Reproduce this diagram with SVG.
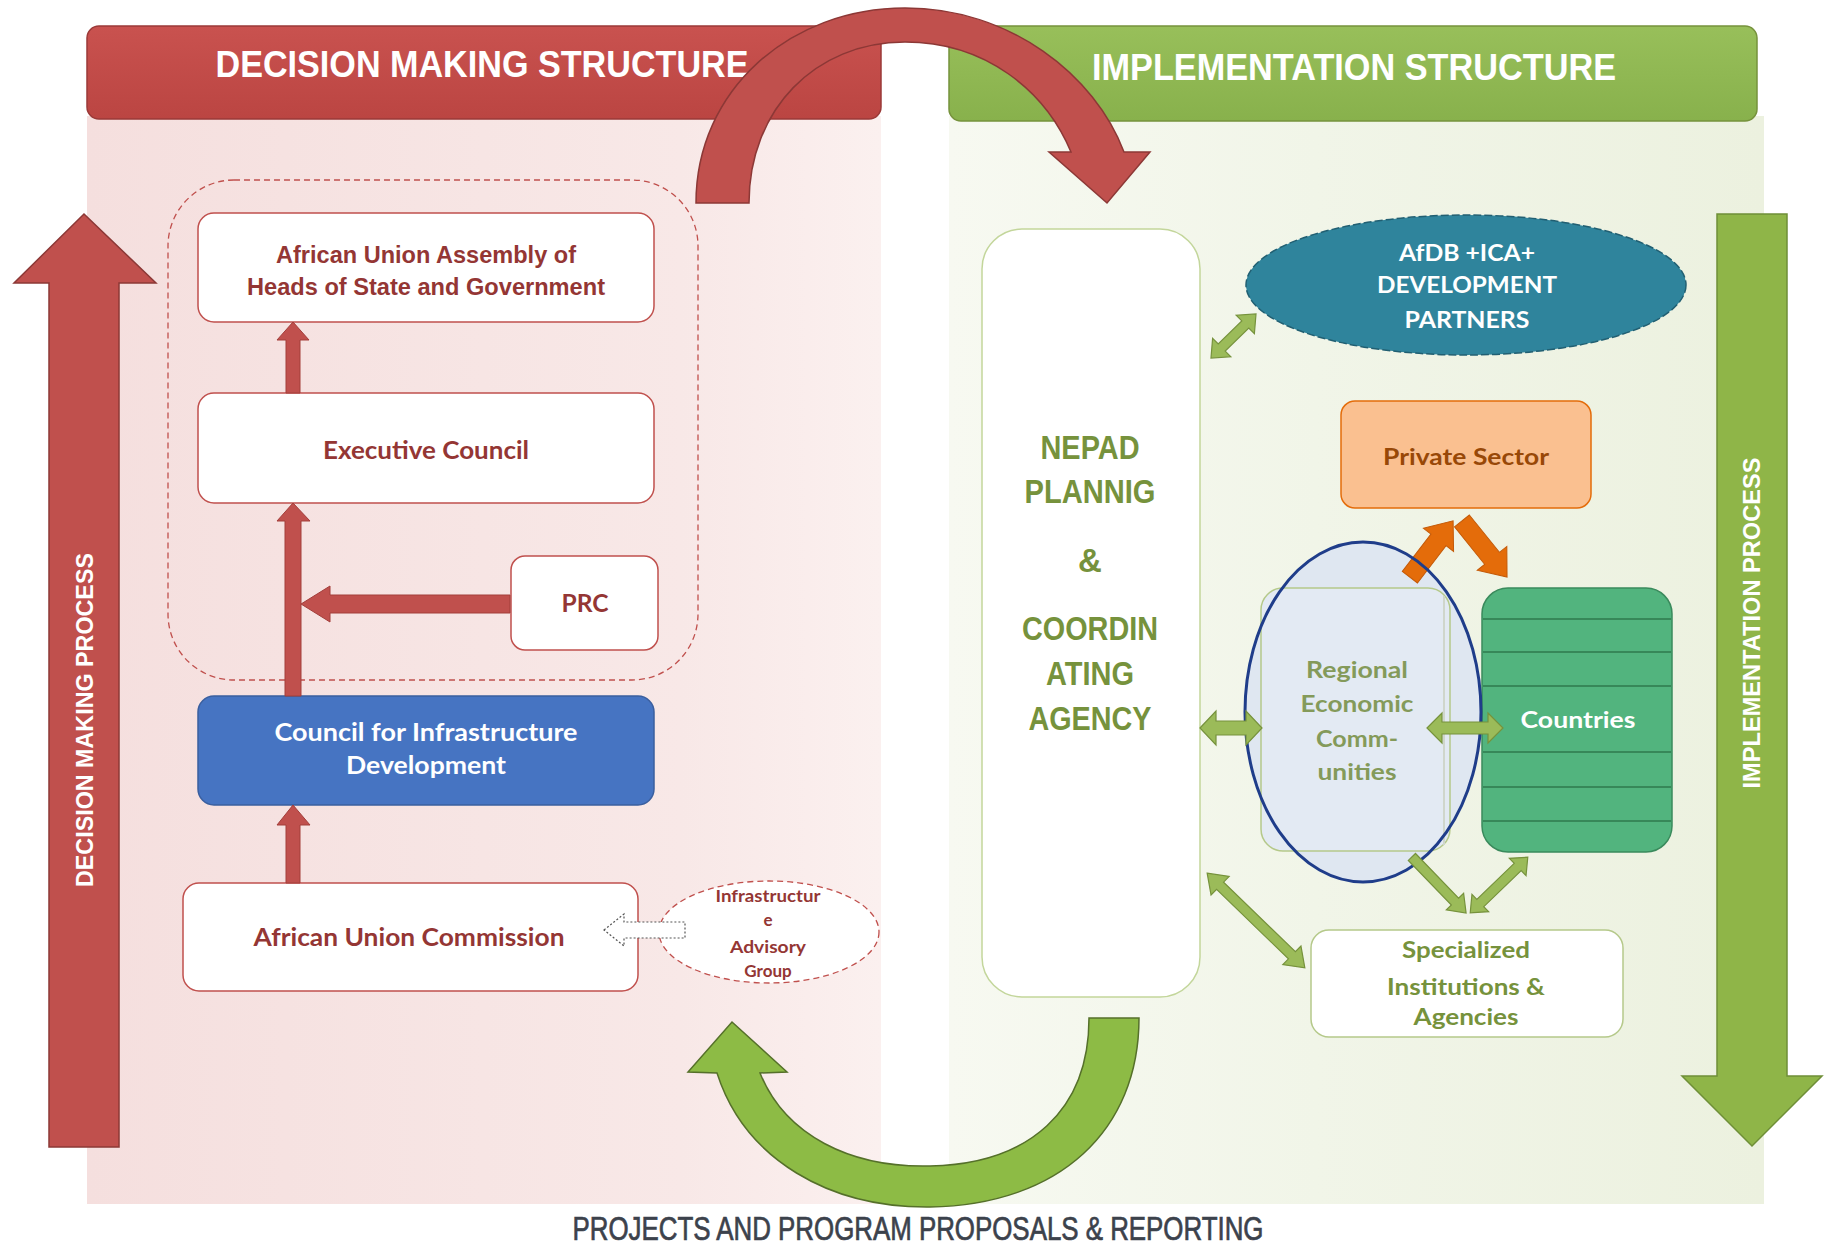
<svg xmlns="http://www.w3.org/2000/svg" width="1825" height="1247" viewBox="0 0 1825 1247">
<defs>
<linearGradient id="gPink" x1="0" y1="0" x2="1" y2="0">
<stop offset="0" stop-color="#f5dfde"/><stop offset="0.75" stop-color="#f8e8e7"/><stop offset="1" stop-color="#fbf0ef"/>
</linearGradient>
<linearGradient id="gGreen" x1="0" y1="0" x2="1" y2="0">
<stop offset="0" stop-color="#f7f9f1"/><stop offset="0.45" stop-color="#f1f5e8"/><stop offset="1" stop-color="#ecf1df"/>
</linearGradient>
<linearGradient id="gRedHead" x1="0" y1="0" x2="0" y2="1">
<stop offset="0" stop-color="#c9524f"/><stop offset="1" stop-color="#bb4542"/>
</linearGradient>
<linearGradient id="gGreenHead" x1="0" y1="0" x2="0" y2="1">
<stop offset="0" stop-color="#98bf5a"/><stop offset="1" stop-color="#88b14c"/>
</linearGradient>
<style>
.hdr{font-family:"Liberation Sans",Arial,sans-serif;font-weight:bold;font-size:37px;fill:#ffffff;text-anchor:middle}
.proc{font-family:"Liberation Sans",Arial,sans-serif;font-weight:bold;font-size:23px;fill:#ffffff;text-anchor:middle}
.box{fill:#ffffff;stroke:#c0504d;stroke-width:1.5}
.lbl{font-family:Lato,"Open Sans",sans-serif;font-weight:bold;text-anchor:middle}
.narrow{font-family:"Liberation Sans",Arial,sans-serif;font-weight:bold;text-anchor:middle}
.red{fill:#943634}
.redarrow{fill:#c0504d;stroke:#a33e3b;stroke-width:1}
.garrow{fill:#9bbb59;stroke:#76923c;stroke-width:1.2}
.oarrow{fill:#e46c0a;stroke:#c45a08;stroke-width:1}
.olive{fill:#76923c}
</style>
</defs>
<rect width="1825" height="1247" fill="#ffffff"/>
<g id="panels">
<rect x="87" y="116" width="794" height="1088" fill="url(#gPink)"/>
<rect x="949" y="116" width="815" height="1088" fill="url(#gGreen)"/>
</g>
<g id="decision-header">
<rect x="87" y="26" width="794" height="93" rx="12" fill="url(#gRedHead)" stroke="#9b3a38" stroke-width="1.5"/>
<text class="hdr" x="482" y="77" textLength="533" lengthAdjust="spacingAndGlyphs">DECISION MAKING STRUCTURE</text>
</g>
<g id="implementation-header">
<rect x="949" y="26" width="808" height="95" rx="12" fill="url(#gGreenHead)" stroke="#76923c" stroke-width="1.5"/>
<text class="hdr" x="1354" y="80" textLength="524" lengthAdjust="spacingAndGlyphs">IMPLEMENTATION STRUCTURE</text>
</g>
<g id="decision-process">
<polygon points="49,1147 49,283 14,283 84,214 156,283 119,283 119,1147" fill="#c0504d" stroke="#8c3836" stroke-width="1.5"/>
<text class="proc" transform="translate(92.5,720) rotate(-90)" x="0" y="0" textLength="334" lengthAdjust="spacingAndGlyphs">DECISION MAKING PROCESS</text>
</g>
<g id="implementation-process">
<polygon points="1717,214 1787,214 1787,1076 1822,1076 1752,1146 1682,1076 1717,1076" fill="#8fb548" stroke="#6f8f37" stroke-width="1.5"/>
<text class="proc" transform="translate(1760,623) rotate(-90)" x="0" y="0" textLength="331" lengthAdjust="spacingAndGlyphs">IMPLEMENTATION PROCESS</text>
</g>
<g id="au-organs-group">
<rect x="168" y="180" width="530" height="500" rx="66" fill="none" stroke="#c0504d" stroke-width="1.3" stroke-dasharray="6 4"/>
</g>
<g id="assembly">
<rect class="box" x="198" y="213" width="456" height="109" rx="16"/>
<text class="narrow red" x="426" y="263" font-size="24" textLength="300" lengthAdjust="spacingAndGlyphs">African Union Assembly of</text>
<text class="narrow red" x="426" y="295" font-size="24" textLength="358" lengthAdjust="spacingAndGlyphs">Heads of State and Government</text>
</g>
<g id="executive-council">
<rect class="box" x="198" y="393" width="456" height="110" rx="16"/>
<text class="lbl red" x="426" y="459" font-size="24" textLength="206" lengthAdjust="spacingAndGlyphs">Executive Council</text>
</g>
<g id="prc">
<rect class="box" x="511" y="556" width="147" height="94" rx="14"/>
<text class="lbl red" x="585" y="612" font-size="24" textLength="47" lengthAdjust="spacingAndGlyphs">PRC</text>
</g>
<g id="cid">
<rect x="198" y="696" width="456" height="109" rx="16" fill="#4674c2" stroke="#3a5f9f" stroke-width="1.5"/>
<text class="lbl" fill="#ffffff" x="426" y="741" font-size="24" textLength="303" lengthAdjust="spacingAndGlyphs">Council for Infrastructure</text>
<text class="lbl" fill="#ffffff" x="426" y="774" font-size="24" textLength="160" lengthAdjust="spacingAndGlyphs">Development</text>
</g>
<g id="auc">
<rect class="box" x="183" y="883" width="455" height="108" rx="16"/>
<text class="lbl red" x="409" y="946" font-size="24" textLength="311" lengthAdjust="spacingAndGlyphs">African Union Commission</text>
</g>
<g id="advisory-group">
<ellipse cx="769" cy="932" rx="110" ry="51" fill="#ffffff" stroke="#c0504d" stroke-width="1.3" stroke-dasharray="6 4"/>
<text class="lbl red" x="768" y="902" font-size="17" textLength="105" lengthAdjust="spacingAndGlyphs">Infrastructur</text>
<text class="lbl red" x="768" y="926" font-size="17">e</text>
<text class="lbl red" x="768" y="953" font-size="17" textLength="76" lengthAdjust="spacingAndGlyphs">Advisory</text>
<text class="lbl red" x="768" y="977" font-size="17">Group</text>
</g>
<g id="nepad">
<rect x="982" y="229" width="218" height="768" rx="40" fill="#ffffff" stroke="#c3d69b" stroke-width="1.5"/>
<text class="narrow olive" x="1090" y="459" font-size="33" textLength="99" lengthAdjust="spacingAndGlyphs">NEPAD</text>
<text class="narrow olive" x="1090" y="503" font-size="33" textLength="131" lengthAdjust="spacingAndGlyphs">PLANNIG</text>
<text class="narrow olive" x="1090" y="572" font-size="33">&amp;</text>
<text class="narrow olive" x="1090" y="640" font-size="33" textLength="136" lengthAdjust="spacingAndGlyphs">COORDIN</text>
<text class="narrow olive" x="1090" y="685" font-size="33" textLength="88" lengthAdjust="spacingAndGlyphs">ATING</text>
<text class="narrow olive" x="1090" y="730" font-size="33" textLength="123" lengthAdjust="spacingAndGlyphs">AGENCY</text>
</g>
<g id="afdb">
<ellipse cx="1466" cy="285" rx="220" ry="70" fill="#2f849c" stroke="#215f72" stroke-width="1.5" stroke-dasharray="8 3"/>
<text class="lbl" fill="#ffffff" x="1467" y="261" font-size="23" textLength="136" lengthAdjust="spacingAndGlyphs">AfDB +ICA+</text>
<text class="lbl" fill="#ffffff" x="1467" y="293" font-size="23" textLength="180" lengthAdjust="spacingAndGlyphs">DEVELOPMENT</text>
<text class="lbl" fill="#ffffff" x="1467" y="328" font-size="23" textLength="125" lengthAdjust="spacingAndGlyphs">PARTNERS</text>
</g>
<g id="private-sector">
<rect x="1341" y="401" width="250" height="107" rx="14" fill="#fac090" stroke="#e46c0a" stroke-width="1.5"/>
<text class="lbl" fill="#984807" x="1466" y="465" font-size="23" textLength="166" lengthAdjust="spacingAndGlyphs">Private Sector</text>
</g>
<g id="countries">
<rect x="1482" y="588" width="190" height="264" rx="26" fill="#52b47e" stroke="#3a8a5c" stroke-width="1.5"/>
<g stroke="#2f7a4e" stroke-width="1.6">
<line x1="1483" y1="619" x2="1671" y2="619"/>
<line x1="1483" y1="652" x2="1671" y2="652"/>
<line x1="1483" y1="686" x2="1671" y2="686"/>
<line x1="1483" y1="752" x2="1671" y2="752"/>
<line x1="1483" y1="787" x2="1671" y2="787"/>
<line x1="1483" y1="821" x2="1671" y2="821"/>
</g>
<text class="lbl" fill="#ffffff" x="1578" y="728" font-size="23" textLength="115" lengthAdjust="spacingAndGlyphs">Countries</text>
</g>
<g id="recs">
<ellipse cx="1363" cy="712" rx="118" ry="170" fill="#dfe7f1"/>
<rect x="1261" y="588" width="189" height="263" rx="22" fill="#e3eaf3" stroke="#b5c98a" stroke-width="1.5"/>
<line x1="1444" y1="596" x2="1444" y2="845" stroke="#cfd6cc" stroke-width="2"/>
<text class="lbl" fill="#849a5a" x="1357" y="678" font-size="22" textLength="102" lengthAdjust="spacingAndGlyphs">Regional</text>
<text class="lbl" fill="#849a5a" x="1357" y="712" font-size="22" textLength="113" lengthAdjust="spacingAndGlyphs">Economic</text>
<text class="lbl" fill="#849a5a" x="1357" y="747" font-size="22" textLength="82" lengthAdjust="spacingAndGlyphs">Comm-</text>
<text class="lbl" fill="#849a5a" x="1357" y="780" font-size="22" textLength="79" lengthAdjust="spacingAndGlyphs">unities</text>
</g>
<g id="specialized">
<rect x="1311" y="930" width="312" height="107" rx="18" fill="#ffffff" stroke="#b5c98a" stroke-width="1.5"/>
<text class="lbl olive" x="1466" y="958" font-size="23" textLength="128" lengthAdjust="spacingAndGlyphs">Specialized</text>
<text class="lbl olive" x="1466" y="995" font-size="23" textLength="158" lengthAdjust="spacingAndGlyphs">Institutions &amp;</text>
<text class="lbl olive" x="1466" y="1025" font-size="23" textLength="105" lengthAdjust="spacingAndGlyphs">Agencies</text>
</g>
<g id="connectors">
<polygon class="redarrow" points="286,393 286,340 277,340 293,322 309,340 300,340 300,393"/>
<polygon class="redarrow" points="285,696 285,521 277,521 293,503 310,521 301,521 301,696"/>
<polygon class="redarrow" points="510,595 330,595 330,586 301,604 330,622 330,613 510,613"/>
<polygon class="redarrow" points="286,883 286,825 277,825 293,805 310,825 300,825 300,883"/>
<polygon points="604,930 624,914 624,922 685,922 685,938 624,938 624,946" fill="#ffffff" stroke="#555555" stroke-width="1.2" stroke-dasharray="2 2"/>
<polygon class="oarrow" points="-35.5,-9.5 11.5,-9.5 11.5,-19 35.5,0 11.5,19 11.5,9.5 -35.5,9.5" transform="translate(1431.5,549) rotate(-52.5)"/>
<polygon class="oarrow" points="-36,-9.5 12,-9.5 12,-19 36,0 12,19 12,9.5 -36,9.5" transform="translate(1484.5,549) rotate(51.2)"/>
<ellipse cx="1363" cy="712" rx="118" ry="170" fill="none" stroke="#1f3d8a" stroke-width="3"/>
<polygon class="garrow" points="-31,0 -15,-17 -15,-7 15,-7 15,-17 31,0 15,17 15,7 -15,7 -15,17" transform="translate(1231,728)"/>
<polygon class="garrow" points="-38,0 -23,-15 -23,-6 23,-6 23,-15 38,0 23,15 23,6 -23,6 -23,15" transform="translate(1465,728)"/>
<polygon class="garrow" points="-31.5,0 -16.5,-13 -16.5,-5 16.5,-5 16.5,-13 31.5,0 16.5,13 16.5,5 -16.5,5 -16.5,13" transform="translate(1233.5,336) rotate(-44.4)"/>
<polygon class="garrow" points="-68,0 -50,-13 -50,-5 50,-5 50,-13 68,0 50,13 50,5 -50,5 -50,13" transform="translate(1256,920.5) rotate(44.1)"/>
<polygon class="garrow" points="-39,-5 23,-5 23,-12 39,0 23,12 23,5 -39,5" transform="translate(1439,885) rotate(46)"/>
<polygon class="garrow" points="-40,0 -26,-12 -26,-5 26,-5 26,-12 40,0 26,12 26,5 -26,5 -26,12" transform="translate(1499,885) rotate(136)"/>
<path d="M696,203 C696,90 790,8 905,8 C1010,8 1095,75 1124,152 L1150,152 L1107,203 L1049,152 L1071,152 C1045,90 985,42 905,42 C815,42 749,110 749,203 Z" fill="#c0504d" stroke="#8c3836" stroke-width="1.5"/>
<path d="M1089,1018 L1139,1018 C1139,1130 1060,1205 930,1207 C830,1208 745,1160 717,1073 L688,1072 L732,1022 L787,1072 L760,1073 C785,1135 850,1168 930,1166 C1030,1164 1089,1110 1089,1018 Z" fill="#8dbb45" stroke="#55702a" stroke-width="1.5"/>
</g>
<g id="footer">
<text x="918" y="1240" font-family="Liberation Sans, Arial, sans-serif" font-size="33" fill="#3c424c" stroke="#3c424c" stroke-width="0.7" text-anchor="middle" textLength="691" lengthAdjust="spacingAndGlyphs">PROJECTS AND PROGRAM PROPOSALS &amp; REPORTING</text>
</g>
</svg>
